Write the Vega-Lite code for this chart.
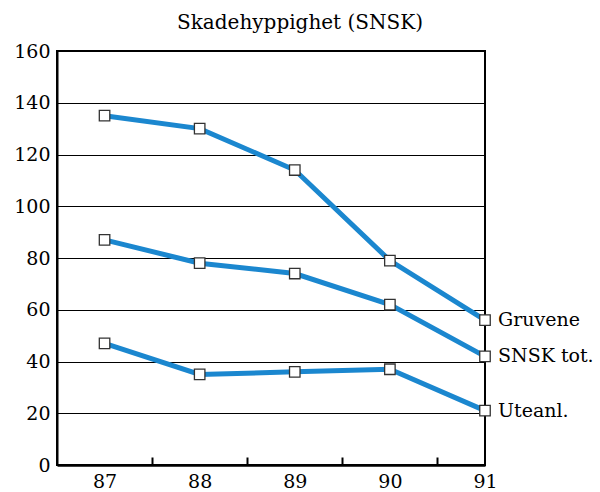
{
  "$schema": "https://vega.github.io/schema/vega-lite/v6.json",
  "width": 428,
  "height": 414,
  "autosize": {"type": "none"},
  "padding": {"left": 57, "top": 51, "right": 115, "bottom": 27},
  "background": "white",
  "title": {
    "text": "Skadehyppighet (SNSK)",
    "font": "DejaVu Serif",
    "fontSize": 20,
    "fontWeight": "normal",
    "color": "black",
    "dx": 29,
    "offset": 9
  },
  "config": {
    "view": {"stroke": "black", "strokeWidth": 2}
  },
  "data": {
    "values": [
      {"serie": "Gruvene", "aar": 87, "verdi": 135},
      {"serie": "Gruvene", "aar": 88, "verdi": 130},
      {"serie": "Gruvene", "aar": 89, "verdi": 114},
      {"serie": "Gruvene", "aar": 90, "verdi": 79},
      {"serie": "Gruvene", "aar": 91, "verdi": 56},
      {"serie": "SNSK tot.", "aar": 87, "verdi": 87},
      {"serie": "SNSK tot.", "aar": 88, "verdi": 78},
      {"serie": "SNSK tot.", "aar": 89, "verdi": 74},
      {"serie": "SNSK tot.", "aar": 90, "verdi": 62},
      {"serie": "SNSK tot.", "aar": 91, "verdi": 42},
      {"serie": "Uteanl.", "aar": 87, "verdi": 47},
      {"serie": "Uteanl.", "aar": 88, "verdi": 35},
      {"serie": "Uteanl.", "aar": 89, "verdi": 36},
      {"serie": "Uteanl.", "aar": 90, "verdi": 37},
      {"serie": "Uteanl.", "aar": 91, "verdi": 21}
    ]
  },
  "encoding": {
    "x": {
      "field": "aar",
      "type": "quantitative",
      "scale": {"domain": [86.5, 91], "nice": false, "zero": false},
      "axis": {
        "values": [87, 87.5, 88, 88.5, 89, 89.5, 90, 90.5, 91],
        "labelExpr": "datum.value % 1 === 0 ? format(datum.value, 'd') : ''",
        "tickSize": -8,
        "tickWidth": 2,
        "tickColor": "black",
        "tickOpacity": {"condition": {"test": "datum.value % 1 === 0", "value": 0}, "value": 1},
        "domainColor": "black",
        "domainWidth": 2.5,
        "labelFontSize": 19,
        "labelFont": "DejaVu Serif",
        "labelColor": "black",
        "labelPadding": 15,
        "labelFlush": false,
        "labelOverlap": false,
        "grid": false,
        "title": null
      }
    },
    "y": {
      "field": "verdi",
      "type": "quantitative",
      "scale": {"domain": [0, 160], "nice": false},
      "axis": {
        "values": [0, 20, 40, 60, 80, 100, 120, 140, 160],
        "grid": true,
        "gridColor": "black",
        "gridWidth": 1.2,
        "ticks": false,
        "domainColor": "black",
        "domainWidth": 2,
        "labelFontSize": 19,
        "labelFont": "DejaVu Serif",
        "labelPadding": 7,
        "labelColor": "black",
        "title": null
      }
    }
  },
  "layer": [
    {
      "mark": {"type": "line", "color": "#1b87cf", "strokeWidth": 5},
      "encoding": {"detail": {"field": "serie"}}
    },
    {
      "mark": {"type": "point", "shape": "square", "filled": true, "fill": "white", "stroke": "#333333", "strokeWidth": 1.3, "size": 110, "opacity": 1}
    },
    {
      "transform": [{"filter": "datum.aar == 91"}],
      "mark": {"type": "text", "align": "left", "baseline": "middle", "dx": 13, "fontSize": 19, "font": "DejaVu Serif", "color": "black"},
      "encoding": {"text": {"field": "serie"}}
    }
  ]
}
